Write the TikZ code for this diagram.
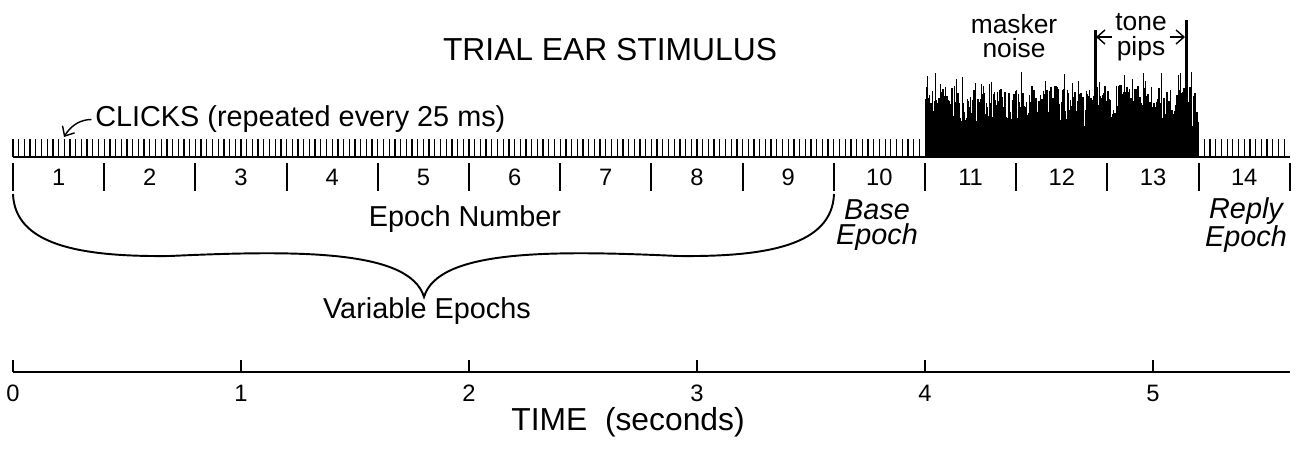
\documentclass[tikz,border=0pt]{standalone}
\usepackage{fontspec}
\setmainfont{Liberation Sans}
\usepackage{tikz}
\usetikzlibrary{arrows.meta,positioning,calc}

\begin{document}
\begin{tikzpicture}[x=0.02cm,y=-0.02cm,>={Straight Barb[length=4.5pt,width=8pt]},
  lbl/.style={font=\fontsize{16.4}{13}\selectfont,inner sep=0pt},
  digit/.style={font=\fontsize{13.5}{14}\selectfont,inner sep=0pt,anchor=base},
  small/.style={font=\fontsize{15}{14}\selectfont,inner sep=1.5pt,align=center},
  epochtag/.style={font=\fontsize{16.4}{14.2}\selectfont\itshape,inner sep=0pt,align=center}]
 \useasboundingbox (0,0) rectangle (1300,449);
 % clicks, every 25 ms
 \foreach \k in {0,...,159} \draw[line width=0.7pt] ({13+5.7*\k},157) -- ++(0,-18);
 \foreach \k in {209,...,223} \draw[line width=0.7pt] ({13+5.7*\k},157) -- ++(0,-18);
 % masker noise, epochs 11-13
 \pgfmathsetseed{11}
 \fill (926,157) rectangle (1199,140);
 \foreach \i in {0,...,272} {
   \pgfmathsetmacro{\h}{30+42*rnd}
   \draw[line width=0.6pt] ({926+\i},157) -- ++(0,-\h);
 }
 \foreach \i in {0,...,100} {
   \pgfmathsetmacro{\h}{45+40*rnd}
   \draw[line width=0.5pt] ({927+2.7*\i},157) -- ++(0,-\h);
 }
 \draw[line width=1.1pt] (13,157) -- (1290,157);
 % tone pips
 \draw[line width=1.7pt] (1095,157) -- (1095,30);
 \draw[line width=1.7pt] (1186,157) -- (1186,20);
 \coordinate (pipA) at (1096,37);
 \coordinate (pipB) at (1185,37);
 \node[small] (tp) at (1141,37) {tone\\pips};
 \draw[->,line width=0.8pt] (tp.west) -- (tp.west -| pipA);
 \draw[->,line width=0.8pt] (tp.east) -- (tp.east -| pipB);
 \node[small] (mn) at (1014,36) {masker\\noise};
 % epochs
 \foreach \e in {0,...,14} \draw[line width=1.2pt] ({13+91.2*\e},163) -- ({13+91.2*\e},191);
 \foreach \e in {1,...,14} \node[digit] (ep\e) at ({13+91.2*(\e-0.5)},186) {\e};
 \node[lbl,anchor=base] (enum) at (465,226) {Epoch Number};
 \node[epochtag] (base) at (877,225) {Base\\Epoch};
 \node[epochtag] (reply) at (1246,225) {Reply\\Epoch};
 \draw[line width=1.1pt] (13,194) .. controls (15,245) and (80,257) .. (170,256)
   .. controls (300,250) and (410,250) .. (424,297)
   .. controls (438,250) and (548,250) .. (678,256)
   .. controls (768,257) and (832,245) .. (834,194);
 \node[lbl,anchor=base] (var) at (427,318) {Variable Epochs};
 % labels
 \node[font=\fontsize{18.1}{20}\selectfont,inner sep=0pt,anchor=base] (title) at (610,61) {TRIAL EAR STIMULUS};
 \node[lbl,anchor=base west] (clk) at (95,127) {CLICKS (repeated every 25 ms)};
 \coordinate (clkpt) at (64,137);
 \draw[->,line width=0.8pt,shorten <=2pt] (clk.west) to[bend right=30] (clkpt);
 % time axis
 \draw[line width=1.3pt] (13,372) -- (1290,372);
 \foreach \s in {0,...,5} {
   \draw[line width=1.3pt] ({13+228*\s},372) -- ++(0,-12);
   \node[digit] (t\s) at ({13+228*\s},401) {\s};
 }
 \node[font=\fontsize{18.1}{20}\selectfont,inner sep=0pt,anchor=base] (tlab) at (628,430) {TIME\ \ (seconds)};
\end{tikzpicture}
\end{document}
